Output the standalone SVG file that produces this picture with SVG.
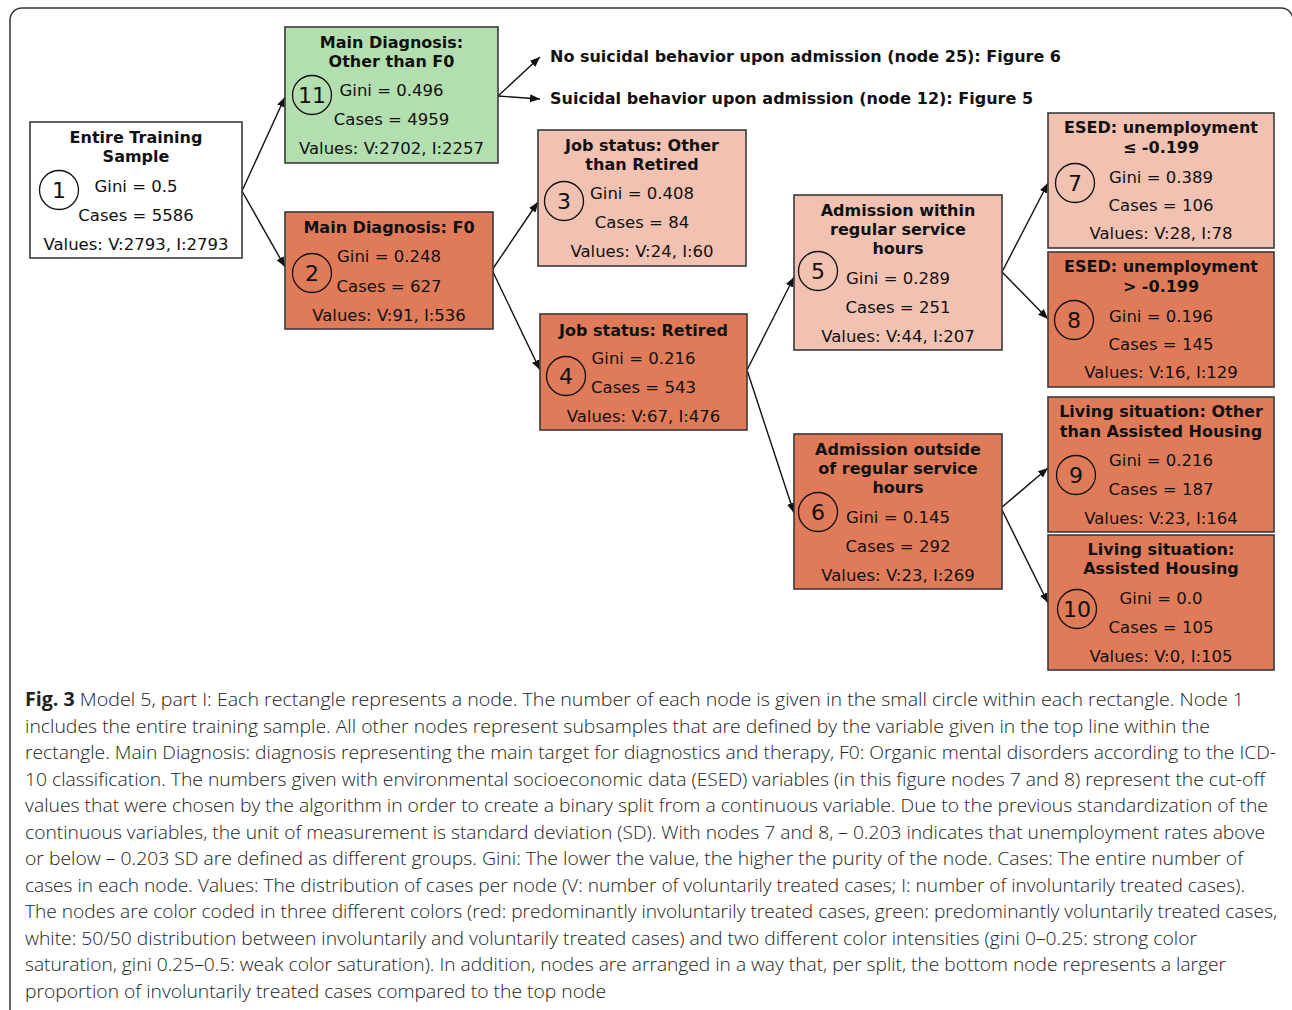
<svg xmlns="http://www.w3.org/2000/svg" width="1292" height="1010" viewBox="0 0 1292 1010">
<style>
.box{stroke:#3a3a3a;stroke-width:1.6}
.w{fill:#ffffff}.g{fill:#b3dfb0}.l{fill:#f1c1b2}.s{fill:#e07b5a}
.t{font-family:"DejaVu Sans",Verdana,sans-serif;font-weight:bold;font-size:16px;fill:#111;text-anchor:middle}
.b{font-family:"DejaVu Sans",Verdana,sans-serif;font-size:16.5px;fill:#111;text-anchor:middle}
.n{font-family:"DejaVu Sans",Verdana,sans-serif;font-size:22px;fill:#111;text-anchor:middle}
.c{fill:none;stroke:#111;stroke-width:1.3}
.e{stroke:#111;stroke-width:1.4;fill:none;marker-end:url(#ah)}
.lab{font-family:"DejaVu Sans",Verdana,sans-serif;font-weight:bold;font-size:16px;fill:#111}
.cap{font-family:"Open Sans","Noto Sans",sans-serif;font-weight:300;font-size:19px;fill:#222}
.capb{font-weight:700}
</style>
<defs>
<marker id="ah" markerUnits="userSpaceOnUse" markerWidth="10" markerHeight="8" refX="10" refY="4" orient="auto">
<path d="M0,0 L10,4 L0,8 z" fill="#111"/>
</marker>
</defs>
<rect x="10" y="8" width="1283" height="1030" rx="12" fill="none" stroke="#333" stroke-width="1.5"/>
<g id="connectors">
<line class="e" x1="242" y1="191" x2="285" y2="97"/>
<line class="e" x1="242" y1="191" x2="285" y2="267"/>
<line class="e" x1="492" y1="270" x2="538" y2="202"/>
<line class="e" x1="492" y1="270" x2="540" y2="370"/>
<line class="e" x1="747" y1="370" x2="794" y2="277"/>
<line class="e" x1="747" y1="370" x2="794" y2="513"/>
<line class="e" x1="1002" y1="272" x2="1048" y2="183"/>
<line class="e" x1="1002" y1="272" x2="1048" y2="319"/>
<line class="e" x1="1001" y1="508" x2="1048" y2="468"/>
<line class="e" x1="1001" y1="508" x2="1048" y2="603"/>
<line class="e" x1="498" y1="96" x2="540" y2="57"/>
<line class="e" x1="498" y1="96" x2="540" y2="99"/>
</g>
<g id="ref-labels">
<text class="lab" x="550" y="62">No suicidal behavior upon admission (node 25): Figure 6</text>
<text class="lab" x="550" y="104">Suicidal behavior upon admission (node 12): Figure 5</text>
</g>
<g id="node1">
<rect class="box w" x="30" y="122" width="212" height="136"/>
<text class="t" x="136" y="143">Entire Training</text>
<text class="t" x="136" y="162">Sample</text>
<circle class="c" cx="59" cy="190" r="19.5"/>
<text class="n" x="59" y="198">1</text>
<text class="b" x="136" y="192">Gini = 0.5</text>
<text class="b" x="136" y="221">Cases = 5586</text>
<text class="b" x="136" y="250">Values: V:2793, I:2793</text>
</g>
<g id="node11">
<rect class="box g" x="285" y="27" width="213" height="136"/>
<text class="t" x="391.5" y="48">Main Diagnosis:</text>
<text class="t" x="391.5" y="67">Other than F0</text>
<circle class="c" cx="312" cy="95" r="19.5"/>
<text class="n" x="312" y="103">11</text>
<text class="b" x="391.5" y="96">Gini = 0.496</text>
<text class="b" x="391.5" y="125">Cases = 4959</text>
<text class="b" x="391.5" y="154">Values: V:2702, I:2257</text>
</g>
<g id="node2">
<rect class="box s" x="285" y="212" width="208" height="117"/>
<text class="t" x="389" y="233">Main Diagnosis: F0</text>
<circle class="c" cx="312" cy="273" r="19.5"/>
<text class="n" x="312" y="281">2</text>
<text class="b" x="389" y="262">Gini = 0.248</text>
<text class="b" x="389" y="292">Cases = 627</text>
<text class="b" x="389" y="321">Values: V:91, I:536</text>
</g>
<g id="node3">
<rect class="box l" x="538" y="130" width="208" height="136"/>
<text class="t" x="642" y="151">Job status: Other</text>
<text class="t" x="642" y="170">than Retired</text>
<circle class="c" cx="564" cy="201" r="19.5"/>
<text class="n" x="564" y="209">3</text>
<text class="b" x="642" y="199">Gini = 0.408</text>
<text class="b" x="642" y="228">Cases = 84</text>
<text class="b" x="642" y="257">Values: V:24, I:60</text>
</g>
<g id="node4">
<rect class="box s" x="540" y="314" width="207" height="116"/>
<text class="t" x="643.5" y="336">Job status: Retired</text>
<circle class="c" cx="566" cy="376" r="19.5"/>
<text class="n" x="566" y="384">4</text>
<text class="b" x="643.5" y="364">Gini = 0.216</text>
<text class="b" x="643.5" y="393">Cases = 543</text>
<text class="b" x="643.5" y="422">Values: V:67, I:476</text>
</g>
<g id="node5">
<rect class="box l" x="794" y="195" width="208" height="155"/>
<text class="t" x="898" y="216">Admission within</text>
<text class="t" x="898" y="235">regular service</text>
<text class="t" x="898" y="254">hours</text>
<circle class="c" cx="818" cy="271" r="19.5"/>
<text class="n" x="818" y="279">5</text>
<text class="b" x="898" y="284">Gini = 0.289</text>
<text class="b" x="898" y="313">Cases = 251</text>
<text class="b" x="898" y="342">Values: V:44, I:207</text>
</g>
<g id="node6">
<rect class="box s" x="794" y="434" width="208" height="155"/>
<text class="t" x="898" y="455">Admission outside</text>
<text class="t" x="898" y="474">of regular service</text>
<text class="t" x="898" y="493">hours</text>
<circle class="c" cx="818" cy="512" r="19.5"/>
<text class="n" x="818" y="520">6</text>
<text class="b" x="898" y="523">Gini = 0.145</text>
<text class="b" x="898" y="552">Cases = 292</text>
<text class="b" x="898" y="581">Values: V:23, I:269</text>
</g>
<g id="node7">
<rect class="box l" x="1048" y="113" width="226" height="135"/>
<text class="t" x="1161" y="133">ESED: unemployment</text>
<text class="t" x="1161" y="153">≤ -0.199</text>
<circle class="c" cx="1075" cy="183" r="19.5"/>
<text class="n" x="1075" y="191">7</text>
<text class="b" x="1161" y="183">Gini = 0.389</text>
<text class="b" x="1161" y="211">Cases = 106</text>
<text class="b" x="1161" y="239">Values: V:28, I:78</text>
</g>
<g id="node8">
<rect class="box s" x="1048" y="252" width="226" height="135"/>
<text class="t" x="1161" y="272">ESED: unemployment</text>
<text class="t" x="1161" y="292">&gt; -0.199</text>
<circle class="c" cx="1074" cy="320" r="19.5"/>
<text class="n" x="1074" y="328">8</text>
<text class="b" x="1161" y="322">Gini = 0.196</text>
<text class="b" x="1161" y="350">Cases = 145</text>
<text class="b" x="1161" y="378">Values: V:16, I:129</text>
</g>
<g id="node9">
<rect class="box s" x="1048" y="397" width="226" height="135"/>
<text class="t" x="1161" y="417">Living situation: Other</text>
<text class="t" x="1161" y="437">than Assisted Housing</text>
<circle class="c" cx="1076" cy="475" r="19.5"/>
<text class="n" x="1076" y="483">9</text>
<text class="b" x="1161" y="466">Gini = 0.216</text>
<text class="b" x="1161" y="495">Cases = 187</text>
<text class="b" x="1161" y="524">Values: V:23, I:164</text>
</g>
<g id="node10">
<rect class="box s" x="1048" y="535" width="226" height="135"/>
<text class="t" x="1161" y="555">Living situation:</text>
<text class="t" x="1161" y="574">Assisted Housing</text>
<circle class="c" cx="1077" cy="609" r="19.5"/>
<text class="n" x="1077" y="617">10</text>
<text class="b" x="1161" y="604">Gini = 0.0</text>
<text class="b" x="1161" y="633">Cases = 105</text>
<text class="b" x="1161" y="662">Values: V:0, I:105</text>
</g>
<g id="caption" class="cap">
<text x="25" y="706" textLength="1219" lengthAdjust="spacingAndGlyphs"><tspan class="capb">Fig. 3</tspan> Model 5, part I: Each rectangle represents a node. The number of each node is given in the small circle within each rectangle. Node 1</text>
<text x="25" y="732.5" textLength="1185" lengthAdjust="spacingAndGlyphs">includes the entire training sample. All other nodes represent subsamples that are defined by the variable given in the top line within the</text>
<text x="25" y="759" textLength="1251" lengthAdjust="spacingAndGlyphs">rectangle. Main Diagnosis: diagnosis representing the main target for diagnostics and therapy, F0: Organic mental disorders according to the ICD-</text>
<text x="25" y="785.5" textLength="1240" lengthAdjust="spacingAndGlyphs">10 classification. The numbers given with environmental socioeconomic data (ESED) variables (in this figure nodes 7 and 8) represent the cut-off</text>
<text x="25" y="812" textLength="1243" lengthAdjust="spacingAndGlyphs">values that were chosen by the algorithm in order to create a binary split from a continuous variable. Due to the previous standardization of the</text>
<text x="25" y="838.5" textLength="1240" lengthAdjust="spacingAndGlyphs">continuous variables, the unit of measurement is standard deviation (SD). With nodes 7 and 8, – 0.203 indicates that unemployment rates above</text>
<text x="25" y="865" textLength="1218" lengthAdjust="spacingAndGlyphs">or below – 0.203 SD are defined as different groups. Gini: The lower the value, the higher the purity of the node. Cases: The entire number of</text>
<text x="25" y="891.5" textLength="1220" lengthAdjust="spacingAndGlyphs">cases in each node. Values: The distribution of cases per node (V: number of voluntarily treated cases; I: number of involuntarily treated cases).</text>
<text x="25" y="918" textLength="1252" lengthAdjust="spacingAndGlyphs">The nodes are color coded in three different colors (red: predominantly involuntarily treated cases, green: predominantly voluntarily treated cases,</text>
<text x="25" y="944.5" textLength="1172" lengthAdjust="spacingAndGlyphs">white: 50/50 distribution between involuntarily and voluntarily treated cases) and two different color intensities (gini 0–0.25: strong color</text>
<text x="25" y="971" textLength="1201" lengthAdjust="spacingAndGlyphs">saturation, gini 0.25–0.5: weak color saturation). In addition, nodes are arranged in a way that, per split, the bottom node represents a larger</text>
<text x="25" y="997.5" textLength="581" lengthAdjust="spacingAndGlyphs">proportion of involuntarily treated cases compared to the top node</text>
</g>
</svg>
